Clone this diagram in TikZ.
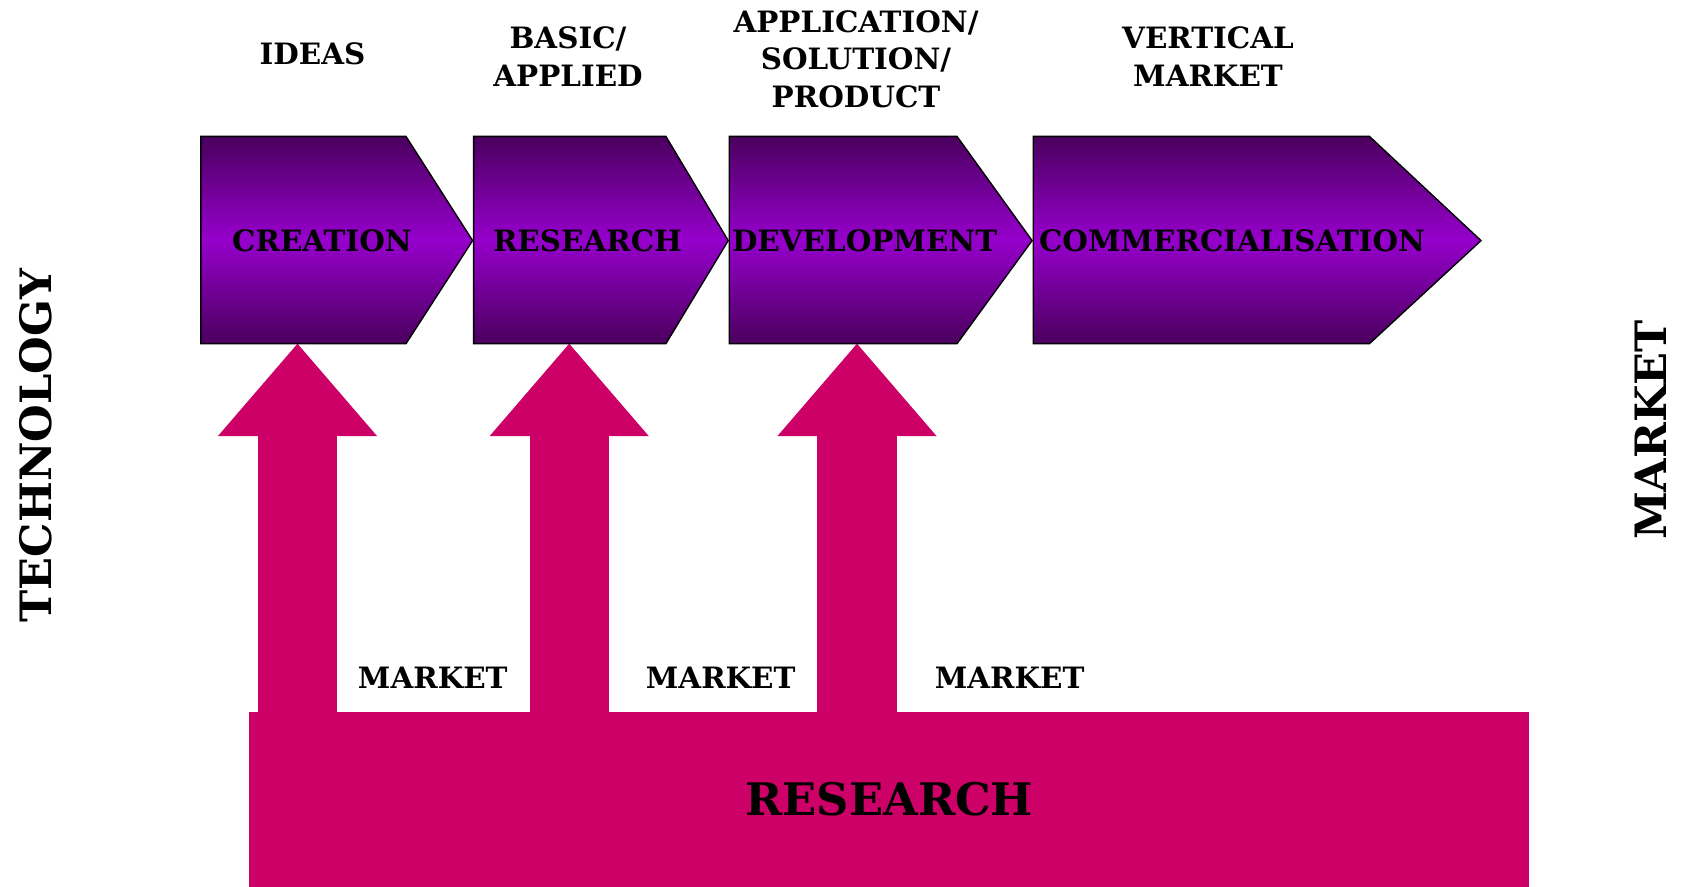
\documentclass[tikz,border=0pt]{standalone}
\usepackage{fontspec}
\setmainfont{DejaVu Serif}
\usetikzlibrary{arrows.meta}

\definecolor{purpdark}{RGB}{74,0,94}
\definecolor{purpbright}{RGB}{150,0,204}
\definecolor{pinkc}{RGB}{204,0,102}

\begin{document}
\begin{tikzpicture}[x=0.5pt, y=-0.5pt,
  lbl/.style = {font=\fontsize{14.7}{18.8}\selectfont\bfseries, align=center, inner sep=0pt},
  side/.style = {font=\fontsize{21.6}{26}\selectfont\bfseries, rotate=90, inner sep=0pt},
  chev/.style = {draw=black, line width=0.7pt, top color=purpdark, bottom color=purpdark,
    middle color=purpbright},
  bigarr/.style = {pinkc, line width=39.7pt,
    -{Triangle[width=79.5pt, length=46.15pt, line width=0pt]}},
  bar/.style = {fill=pinkc, minimum width=640pt, minimum height=87.5pt, inner sep=0pt,
    font=\fontsize{22.4}{28}\selectfont\bfseries}
  ]
  \useasboundingbox (0,0) rectangle (1684,887);

  % research bar and its arrows
  \node[bar] (research) at (889.3,799.5) {RESEARCH};
  \coordinate (tip1) at (297.5,343.7);
  \coordinate (tip2) at (569.2,343.7);
  \coordinate (tip3) at (857,343.7);
  \draw[bigarr] ([yshift=-3pt]tip1 |- research.north) -- (tip1);
  \draw[bigarr] ([yshift=-3pt]tip2 |- research.north) -- (tip2);
  \draw[bigarr] ([yshift=-3pt]tip3 |- research.north) -- (tip3);

  % chevrons
  \shade[chev] (200.8,136.4) -- (406,136.4) -- (472.6,240.6) -- (406,343.7) -- (200.8,343.7) -- cycle;
  \shade[chev] (473.6,136.4) -- (665.9,136.4) -- (728.2,240.6) -- (665.9,343.7) -- (473.6,343.7) -- cycle;
  \shade[chev] (729.2,136.4) -- (957,136.4) -- (1032.1,240.6) -- (957,343.7) -- (729.2,343.7) -- cycle;
  \shade[chev] (1033.2,136.4) -- (1369.4,136.4) -- (1481,240.6) -- (1369.4,343.7) -- (1033.2,343.7) -- cycle;

  \node[lbl] (creation) at (322,240.6) {CREATION};
  \node[lbl] (resstage) at (587.5,240.6) {RESEARCH};
  \node[lbl] (develop) at (864.6,240.6) {DEVELOPMENT};
  \node[lbl] (commerc) at (1232,240.6) {COMMERCIALISATION};

  % labels above
  \node[lbl] (ideas) at (312.5,53.7) {IDEAS};
  \node[lbl] (basic) at (568,56.4) {BASIC/\\APPLIED};
  \node[lbl] (applic) at (856,59) {APPLICATION/\\SOLUTION/\\PRODUCT};
  \node[lbl] (vertical) at (1208,56.4) {VERTICAL\\MARKET};

  % market labels
  \node[lbl] (market1) at (432.8,677.7) {MARKET};
  \node[lbl] (market2) at (720.7,677.7) {MARKET};
  \node[lbl] (market3) at (1009.6,677.7) {MARKET};

  % sides
  \node[side] (techno) at (35.4,445.7) {TECHNOLOGY};
  \node[side] (marketside) at (1651,430) {MARKET};
\end{tikzpicture}
\end{document}
